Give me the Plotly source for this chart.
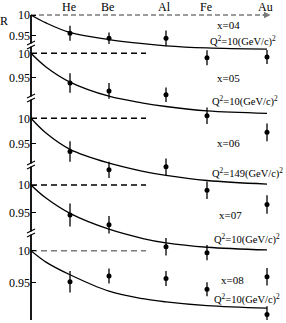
import plotly.graph_objects as go

# ---------------- data ----------------
nuclei = ["He", "Be", "Al", "Fe", "Au"]
nucleus_pos = [3.9, 7.8, 13.5, 17.6, 23.6]  # position of each nucleus on the horizontal scale

panel_x_labels = ["x=04", "x=05", "x=06", "x=07", "x=08"]
panel_q2_labels = [
    "Q<sup>2</sup>=10(GeV/c)<sup>2</sup>",
    "Q<sup>2</sup>=10(GeV/c)<sup>2</sup>",
    "Q<sup>2</sup>=149(GeV/c)<sup>2</sup>",
    "Q<sup>2</sup>=10(GeV/c)<sup>2</sup>",
    "Q<sup>2</sup>=10(GeV/c)<sup>2</sup>",
]

# measured ratios R and their errors, one list per panel
R_x04 = [0.956, 0.944, 0.944, 0.897, 0.899]
E_x04 = [0.018, 0.014, 0.019, 0.018, 0.017]
R_x05 = [0.939, 0.923, 0.915, 0.872, 0.838]
E_x05 = [0.020, 0.016, 0.015, 0.017, 0.018]
R_x06 = [0.935, 0.899, 0.905, 0.859, 0.831]
E_x06 = [0.020, 0.016, 0.016, 0.017, 0.018]
R_x07 = [0.945, 0.927, 0.887, 0.876, 0.832]
E_x07 = [0.021, 0.016, 0.016, 0.014, 0.016]
R_x08 = [0.951, 0.960, 0.956, 0.939, 0.899]
E_x08 = [0.017, 0.012, 0.012, 0.011, 0.013]

# theory curves, read at several positions along the horizontal scale
curve_pos = [0.0, 1.5, 3.9, 7.8, 11.2, 13.5, 17.6, 23.6]
curve_x04 = [1.000, 0.981, 0.958, 0.941, 0.931, 0.926, 0.921, 0.918]
curve_x05 = [1.000, 0.972, 0.941, 0.912, 0.898, 0.891, 0.882, 0.877]
curve_x06 = [1.000, 0.971, 0.939, 0.912, 0.896, 0.888, 0.878, 0.871]
curve_x07 = [1.000, 0.976, 0.948, 0.919, 0.902, 0.894, 0.886, 0.881]
curve_x08 = [1.000, 0.982, 0.962, 0.936, 0.924, 0.919, 0.913, 0.909]

R_all = [R_x04, R_x05, R_x06, R_x07, R_x08]
E_all = [E_x04, E_x05, E_x06, E_x07, E_x08]
C_all = [curve_x04, curve_x05, curve_x06, curve_x07, curve_x08]

ref_end_short = 11.5   # end of the dashed R=1 reference lines
ref_end_long = 23.4

# ---------------- layout constants ----------------
W, H = 286, 323
ML, MR, MT, MB = 31, 6, 10, 3
PW, PH = W - ML - MR, H - MT - MB
XMAX = PW / 10.0
panel_one_px = [15, 53.3, 118.3, 185, 250.7]   # pixel row of R=1 in each panel
panel_step_px = [20.8, 24.4, 25.5, 27.3, 31.6]  # pixels per 0.05 in each panel
FONT = "Liberation Serif"
GREY = "#7a7a7a"


def pxx(px):
    return (px - ML) / PW


def pxy(py):
    return (H - MB - py) / PH


fig = go.Figure()
layout_axes = {}
for i in range(5):
    p1, d = panel_one_px[i], panel_step_px[i]
    ymax = 1 + (p1 - MT) * 0.05 / d
    ymin = 1 - (H - MB - p1) * 0.05 / d
    yname = "y" if i == 0 else f"y{i+1}"
    ax = dict(
        range=[ymin, ymax], domain=[0, 1], showgrid=False, zeroline=False,
        showline=False, tickvals=[0.95, 1.0], ticktext=["0.95", "10"],
        ticks="inside", ticklen=5, tickwidth=1.2, tickcolor="black",
        tickfont=dict(family=FONT, size=12, color="black"), automargin=False,
        fixedrange=True,
    )
    if i > 0:
        ax["overlaying"] = "y"
        ax["anchor"] = "x"
    layout_axes["yaxis" if i == 0 else f"yaxis{i+1}"] = ax

    # dashed R=1 reference
    if i == 0:
        fig.add_trace(go.Scatter(x=[0, ref_end_long], y=[1, 1], mode="lines", yaxis=yname,
                                 line=dict(color=GREY, width=1.5, dash="5px,3px"),
                                 showlegend=False, hoverinfo="skip"))
    else:
        col = GREY if i == 4 else "black"
        fig.add_trace(go.Scatter(x=[0, ref_end_short], y=[1, 1], mode="lines", yaxis=yname,
                                 line=dict(color=col, width=1.5, dash="6px,4px"),
                                 showlegend=False, hoverinfo="skip"))
    # theory curve
    fig.add_trace(go.Scatter(x=curve_pos, y=C_all[i], mode="lines", yaxis=yname,
                             line=dict(color="black", width=1.3, shape="spline", smoothing=1.0),
                             showlegend=False, hoverinfo="skip"))
    # data points
    fig.add_trace(go.Scatter(x=nucleus_pos, y=R_all[i], mode="markers", yaxis=yname,
                             marker=dict(color="black", size=5),
                             error_y=dict(type="data", array=E_all[i], visible=True,
                                          color="black", thickness=1.3, width=0),
                             showlegend=False))

shapes = []
# vertical axis with breaks
breaks = [45, 98, 165, 233]
seg_edges = [15] + [v for b in breaks for v in (b - 1.5, b + 1.5)] + [320]
for k in range(0, len(seg_edges), 2):
    shapes.append(dict(type="line", xref="paper", yref="paper",
                       x0=0, x1=0, y0=pxy(seg_edges[k]), y1=pxy(seg_edges[k + 1]),
                       line=dict(color="black", width=1.8)))
for b in breaks:
    for off in (-2, 2):
        shapes.append(dict(type="line", xref="paper", yref="paper",
                           x0=pxx(ML - 4), x1=pxx(ML + 4),
                           y0=pxy(b + off + 2), y1=pxy(b + off - 2),
                           line=dict(color="black", width=1.2)))

annotations = []
# arrow head of the top dashed line
annotations.append(dict(x=23.95, y=1.0, xref="x", yref="y", ax=23.0, ay=1.0,
                        axref="x", ayref="y", text="", showarrow=True,
                        arrowhead=2, arrowsize=1, arrowwidth=1.3, arrowcolor=GREY))
# nucleus labels on top
for name, pos in zip(nuclei, nucleus_pos):
    annotations.append(dict(x=pos - 0.15, y=pxy(7), xref="x", yref="paper", text=name,
                            showarrow=False, xanchor="center", yanchor="middle",
                            font=dict(family=FONT, size=12, color="black")))
# R label
annotations.append(dict(x=pxx(4), y=pxy(21), xref="paper", yref="paper", text="R",
                        showarrow=False, xanchor="center", yanchor="middle",
                        font=dict(family=FONT, size=12, color="black")))
# panel labels
xlab_px = [(228, 25), (228, 78), (228, 143), (230, 215), (232, 280)]
qlab_px = [(243, 41.5), (245, 101), (247, 172.5), (247, 238.5), (247, 298.5)]
for i in range(5):
    annotations.append(dict(x=pxx(xlab_px[i][0]), y=pxy(xlab_px[i][1]), xref="paper",
                            yref="paper", text=panel_x_labels[i], showarrow=False,
                            xanchor="center", yanchor="middle",
                            font=dict(family=FONT, size=11, color="black")))
    annotations.append(dict(x=pxx(qlab_px[i][0]), y=pxy(qlab_px[i][1]), xref="paper",
                            yref="paper", text=panel_q2_labels[i], showarrow=False,
                            xanchor="center", yanchor="middle",
                            font=dict(family=FONT, size=10.5, color="black")))

fig.update_layout(
    template="none",
    width=W, height=H,
    margin=dict(l=ML, r=MR, t=MT, b=MB, pad=0, autoexpand=False),
    paper_bgcolor="white", plot_bgcolor="rgba(0,0,0,0)",
    xaxis=dict(range=[0, XMAX], visible=False, fixedrange=True),
    shapes=shapes, annotations=annotations,
    showlegend=False,
    **layout_axes,
)

fig.write_html("out.html", config={"displayModeBar": False},
               post_script="document.body.style.margin='0px';document.body.style.padding='0px';")
